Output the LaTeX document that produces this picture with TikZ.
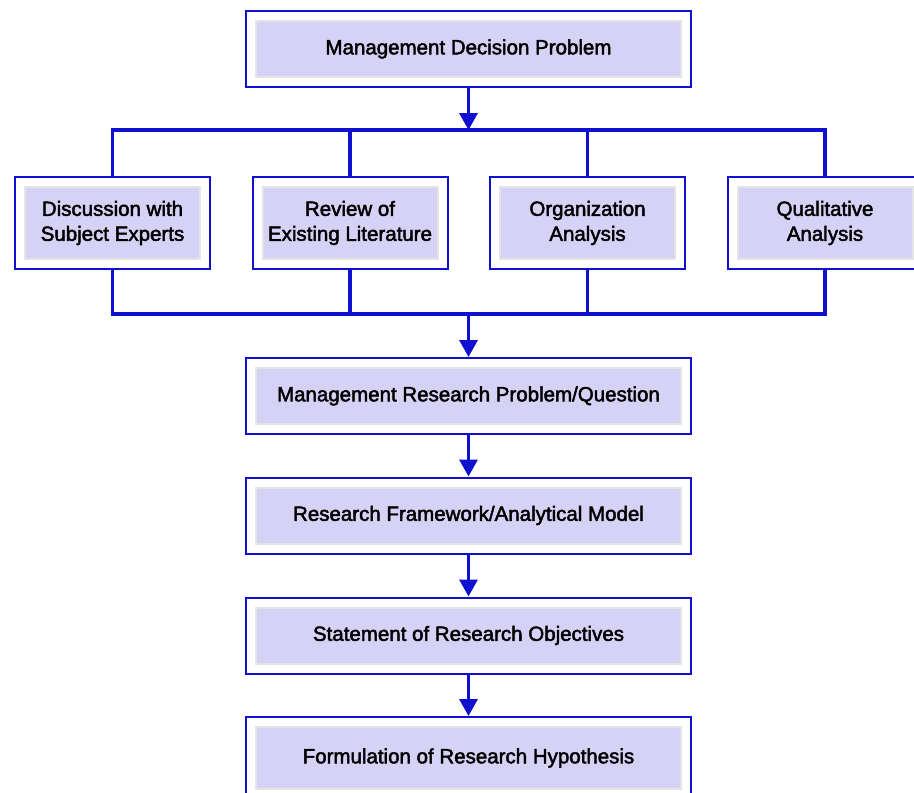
\documentclass[tikz,border=0pt]{standalone}
\usepackage{fontspec}
\setmainfont{Liberation Sans}
\usetikzlibrary{arrows.meta,calc}
\definecolor{bblue}{RGB}{16,16,208}
\definecolor{lav}{RGB}{214,210,245}
\definecolor{igray}{RGB}{228,228,228}
\newcommand\embon{\special{pdf:literal direct q 2 Tr 0.45 w}}
\newcommand\emboff{\special{pdf:literal direct Q}}
\newcommand\lbl[1]{\embon#1\emboff}
\tikzset{
  boxbase/.style={draw=bblue, line width=2pt, fill=white, inner sep=0pt, align=center,
    text=black, font=\fontsize{20.5pt}{25pt}\selectfont,
    path picture={\draw[draw=igray, line width=2pt, fill=lav]
      ([shift={(10pt,-10pt)}]path picture bounding box.north west) rectangle
      ([shift={(-10pt,10pt)}]path picture bounding box.south east);}},
  bigbox/.style={boxbase, minimum width=445pt, minimum height=76pt},
  smallbox/.style={boxbase, minimum width=195pt, minimum height=92pt},
  conn/.style={draw=bblue, line width=3.5pt},
  arr/.style={draw=bblue, line width=3.5pt, -{Triangle[width=18pt,length=17pt]}},
}
\begin{document}
\begin{tikzpicture}[x=1pt,y=1pt]
\useasboundingbox[fill=white] (0,0) rectangle (914,-793);
\node[bigbox] (mdp) at (468.5,-49) {\lbl{Management Decision Problem}};
\node[smallbox] (d1) at (112.5,-223) {\lbl{Discussion with}\\\lbl{Subject Experts}};
\node[smallbox] (d2) at (350,-223) {\lbl{Review of}\\\lbl{Existing Literature}};
\node[smallbox] (d3) at (587.5,-223) {\lbl{Organization}\\\lbl{Analysis}};
\node[smallbox] (d4) at (825,-223) {\lbl{Qualitative}\\\lbl{Analysis}};
\node[bigbox] (mrp) at (468.5,-396) {\lbl{Management Research Problem/Question}};
\node[bigbox] (rf) at (468.5,-515.5) {\lbl{Research Framework/Analytical Model}};
\node[bigbox] (sro) at (468.5,-635.5) {\lbl{Statement of Research Objectives}};
\node[bigbox, minimum height=82pt] (frh) at (468.5,-758) {\raisebox{3pt}{\lbl{Formulation of Research Hypothesis}}};
\coordinate (tb) at (468.5,-130);
\coordinate (bb) at (468.5,-314);
\draw[conn] (d1.north) -- (d1.north |- tb) -- (d4.north |- tb) -- (d4.north);
\draw[conn] (d2.north) -- (d2.north |- tb);
\draw[conn] (d3.north) -- (d3.north |- tb);
\draw[conn] (d1.south) -- (d1.south |- bb) -- (d4.south |- bb) -- (d4.south);
\draw[conn] (d2.south) -- (d2.south |- bb);
\draw[conn] (d3.south) -- (d3.south |- bb);
\draw[arr] (mdp.south) -- (tb);
\draw[arr] (bb) -- (mrp.north);
\draw[arr] (mrp.south) -- (rf.north);
\draw[arr] (rf.south) -- (sro.north);
\draw[arr] (sro.south) -- (frh.north);
\end{tikzpicture}
\end{document}
